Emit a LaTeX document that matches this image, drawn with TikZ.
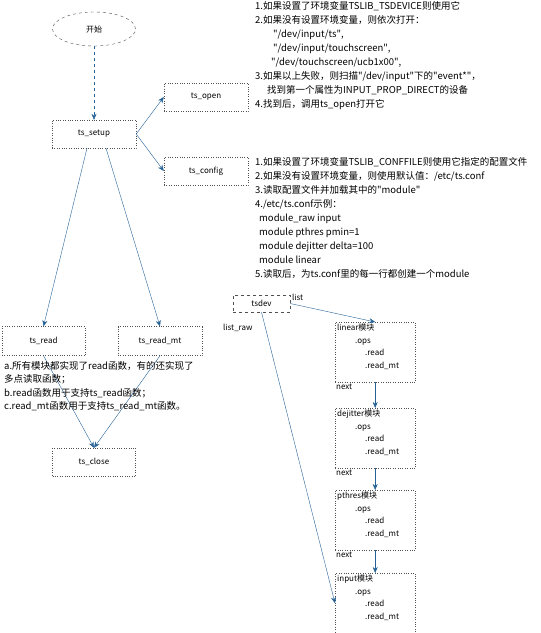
\documentclass[tikz,border=0pt]{standalone}
\usepackage{fontspec}
\setmainfont{Noto Sans CJK SC}
\definecolor{flow}{RGB}{38,98,150}
\definecolor{frame}{RGB}{80,80,80}
\usetikzlibrary{arrows.meta,shapes.geometric}
\newcommand{\qt}[1]{\textquotedbl#1\textquotedbl}

\begin{document}
\begin{tikzpicture}[x=1pt,y=-1pt,
    fn/.style={draw=frame,dotted,minimum width=84pt,minimum height=28pt,font=\fontsize{8}{10}\selectfont},
    modbox/.style={draw=frame,dotted,anchor=north west,minimum width=80pt,minimum height=60pt},
    link/.style={-{Stealth[length=6pt,width=5pt]},flow},
    note/.style={anchor=north west,align=left,inner sep=0pt,font=\fontsize{9.5}{14}\selectfont}]
  \useasboundingbox (0,0) rectangle (541,633);

  % left column: calls
  \node[ellipse,draw=frame,dashed,minimum width=83pt,minimum height=34pt,font=\fontsize{8}{10}\selectfont] (start) at (94,29) {开始};
  \node[fn] (setup) at (94,134) {ts\_setup};
  \node[fn] (open) at (206,97) {ts\_open};
  \node[fn] (config) at (206,171) {ts\_config};
  \node[fn,minimum width=83pt,minimum height=29pt] (read) at (43.5,341) {ts\_read};
  \node[fn,minimum height=29pt] (readmt) at (160,341) {ts\_read\_mt};
  \node[fn,minimum width=83pt] (close) at (94,462) {ts\_close};

  \draw[link,dashed] (start) -- (setup);
  \draw[link] (setup.east) -- (open.west);
  \draw[link] (setup.east) -- (config.west);
  \draw[link] ([xshift=-7pt]setup.south) -- (read.north);
  \draw[link] ([xshift=12pt]setup.south) -- (readmt.north);
  \draw[link] (read.south) -- (close.north);
  \draw[link] (readmt.south) -- (close.north);

  % notes
  \node[note] (opentxt) at (255,1) {%
    1.如果设置了环境变量TSLIB\_TSDEVICE则使用它\\
    2.如果没有设置环境变量，则依次打开：\\
    \hspace*{18pt}\qt{/dev/input/ts},\\
    \hspace*{18pt}\qt{/dev/input/touchscreen},\\
    \hspace*{16pt}\qt{/dev/touchscreen/ucb1x00},\\
    3.如果以上失败，则扫描\qt{/dev/input}下的\qt{event*}，\\
    \hspace*{12pt}找到第一个属性为INPUT\_PROP\_DIRECT的设备\\
    4.找到后，调用ts\_open打开它};
  \node[note] (conftxt) at (255,157) {%
    1.如果设置了环境变量TSLIB\_CONFFILE则使用它指定的配置文件\\
    2.如果没有设置环境变量，则使用默认值：/etc/ts.conf\\
    3.读取配置文件并加载其中的\qt{module}\\
    4./etc/ts.conf示例：\\
    \hspace*{4pt}module\_raw input\\
    \hspace*{4pt}module pthres pmin=1\\
    \hspace*{4pt}module dejitter delta=100\\
    \hspace*{4pt}module linear\\
    5.读取后，为ts.conf里的每一行都创建一个module};
  \node[note,font=\fontsize{9.5}{13.5}\selectfont] (readtxt) at (4,361) {%
    a.所有模块都实现了read函数，有的还实现了\\
    多点读取函数；\\
    b.read函数用于支持ts\_read函数；\\
    c.read\_mt函数用于支持ts\_read\_mt函数。};

  % right column: tsdev and its modules
  \node[draw=frame,dashed,minimum width=57pt,minimum height=17pt,inner sep=1pt,font=\fontsize{8}{10}\selectfont] (tsdev) at (261.5,303.5) {tsdev};
  \node[anchor=west,inner sep=1pt,font=\fontsize{8}{10}\selectfont] (list) at (291,297) {list};
  \node[anchor=west,inner sep=1pt,font=\fontsize{8}{10}\selectfont] (listraw) at (222,328) {list\_raw};

  \foreach \i/\n/\y in {1/linear/322,2/dejitter/408,3/pthres/490,4/input/573} {
    \node[modbox] (m\i) at (335,\y) {};
    \node[anchor=north west,align=left,inner sep=2pt,font=\fontsize{8}{12.5}\selectfont] (t\i) at (m\i.north west)
      {\n 模块\\ \hspace*{18pt}.ops\\ \hspace*{28pt}.read\\ \hspace*{28pt}.read\_mt};
  }
  \foreach \i in {1,2,3}
    \node[anchor=north west,inner sep=1pt,font=\fontsize{8}{10}\selectfont] (nx\i) at (m\i.south west) {next};
  \foreach \i/\j in {1/2,2/3,3/4}
    \draw[link] (m\i.south) -- (m\j.north);

  \draw[link] (tsdev.east) -- (m1.north);
  \draw[link] (tsdev.south) -- (m4.west);
\end{tikzpicture}
\end{document}
